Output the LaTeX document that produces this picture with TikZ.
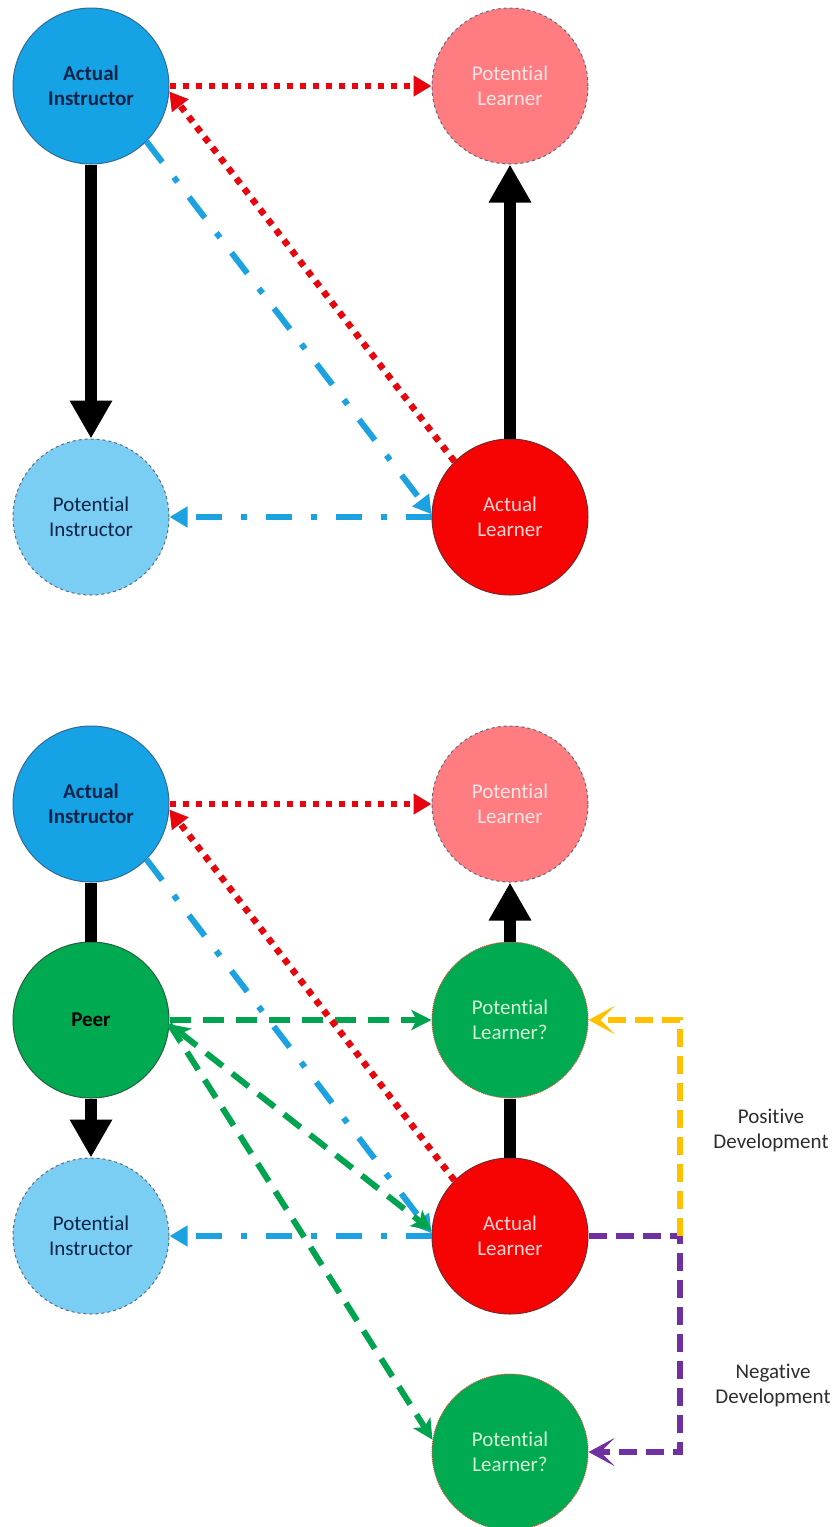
\documentclass[tikz,border=0pt]{standalone}
\usepackage{fontspec}
\setmainfont{Carlito}[Ligatures=NoCommon,RawFeature={-liga;-clig;-calt;-dlig}]
\usetikzlibrary{arrows.meta}
\definecolor{instrblue}{RGB}{22,163,229}
\definecolor{instredge}{RGB}{52,105,150}
\definecolor{potinstrblue}{RGB}{122,206,244}
\definecolor{potlearnpink}{RGB}{255,124,128}
\definecolor{learnred}{RGB}{246,4,4}
\definecolor{learnedge}{RGB}{120,40,40}
\definecolor{peergreen}{RGB}{0,170,80}
\definecolor{peeredge}{RGB}{40,95,60}
\definecolor{navytext}{RGB}{12,35,72}
\definecolor{greytext}{RGB}{45,45,45}
\definecolor{dashgrey}{RGB}{95,105,125}
\definecolor{teachred}{RGB}{232,6,14}
\definecolor{guideblue}{RGB}{28,162,224}
\definecolor{peerline}{RGB}{0,163,78}
\definecolor{growgold}{RGB}{255,192,0}
\definecolor{declinepurple}{RGB}{112,48,160}
\tikzset{
  role/.style={circle, minimum size=156pt, inner sep=0pt, align=center,
    line width=1pt, font=\fontsize{21}{25}\selectfont},
  actinstr/.style={role, fill=instrblue, draw=instredge, text=navytext,
    font=\fontsize{21}{25}\selectfont\bfseries},
  potinstr/.style={role, fill=potinstrblue, draw=dashgrey, dashed, text=navytext},
  potlearn/.style={role, fill=potlearnpink, draw=dashgrey, dashed, text={rgb,255:red,255;green,230;blue,230}},
  actlearn/.style={role, fill=learnred, draw=learnedge, text={rgb,255:red,255;green,214;blue,214}},
  peer/.style={role, fill=peergreen, draw=peeredge, text=black,
    font=\fontsize{21}{25}\selectfont\bfseries},
  maybelearn/.style={role, fill=peergreen, draw={rgb,255:red,205;green,85;blue,60}, densely dotted,
    text={rgb,255:red,214;green,244;blue,214}},
  devnote/.style={align=center, text=greytext, font=\fontsize{21}{25}\selectfont},
  link/.style={line width=12pt, black},
  linkarrow/.style={link, -{Triangle[length=38pt,width=40pt]}},
  teach/.style={teachred, line width=6.5pt, dash pattern=on 6.5pt off 6.5pt,
    -{Triangle[length=18pt,width=20pt]}},
  guide/.style={guideblue, line width=6pt, dash pattern=on 26pt off 19pt on 6pt off 19pt,
    -{Triangle[length=18pt,width=20pt]}},
  peerlink/.style={peerline, line width=6pt, dash pattern=on 21pt off 12pt,
    -{Stealth[length=20pt,width=20pt,inset=5pt]}},
  growth/.style={growgold, line width=5.5pt, dash pattern=on 18pt off 9pt,
    -{Stealth[length=26pt,width=28pt,inset=14pt]}},
  decline/.style={declinepurple, line width=5.5pt, dash pattern=on 18pt off 9pt,
    -{Stealth[length=26pt,width=28pt,inset=14pt]}}
}
\begin{document}
\begin{tikzpicture}[x=1pt, y=-1pt]
  \useasboundingbox (0,0) rectangle (833,1527);

  % first model
  \node[actinstr] (ai) at (91,86) {Actual\\Instructor};
  \node[potlearn] (pl) at (510,86) {Potential\\Learner};
  \node[potinstr] (pi) at (91,517) {Potential\\Instructor};
  \node[actlearn] (al) at (510,517) {Actual\\Learner};

  \draw[linkarrow] (ai) -- (pi);
  \draw[linkarrow] (al) -- (pl);
  \draw[guide] (ai.-45) -- (al.178);
  \draw[guide] (al.west) -- (pi.east);
  \draw[teach] (ai.east) -- (pl.west);
  \draw[teach] (al.135) -- (ai.-4);

  % second model, with peer
  \node[actinstr] (ai2) at (91,804) {Actual\\Instructor};
  \node[potlearn] (pl2) at (510,804) {Potential\\Learner};
  \node[peer] (peer) at (91,1020) {Peer};
  \node[maybelearn] (plq) at (510,1020) {Potential\\Learner?};
  \node[potinstr] (pi2) at (91,1236) {Potential\\Instructor};
  \node[actlearn] (al2) at (510,1236) {Actual\\Learner};
  \node[maybelearn] (plr) at (510,1452) {Potential\\Learner?};
  \coordinate (fork) at (680,1236);

  \draw[link] (ai2) -- (peer);
  \draw[linkarrow] (peer) -- (pi2);
  \draw[link] (al2) -- (plq);
  \draw[linkarrow] (plq) -- (pl2);
  \draw[guide] (ai2.-45) -- (al2.178);
  \draw[guide] (al2.west) -- (pi2.east);
  \draw[teach] (ai2.east) -- (pl2.west);
  \draw[peerlink] (peer.east) -- (plq.west);
  \draw[peerlink] (peer.-3) -- (plr.171);
  \draw[peerlink, {Stealth[length=20pt,width=20pt,inset=5pt]}-{Stealth[length=20pt,width=20pt,inset=5pt]}] (peer.-3) -- (al2.176);
  \draw[teach] (al2.135) -- (ai2.-4);
  \draw[decline] (al2.east) -- (fork) |- (plr.east);
  \draw[growth] (fork) |- (plq.east);

  \node[devnote] (pos) at (771,1130) {Positive\\Development};
  \node[devnote] (neg) at (773,1385) {Negative\\Development};
\end{tikzpicture}
\end{document}
